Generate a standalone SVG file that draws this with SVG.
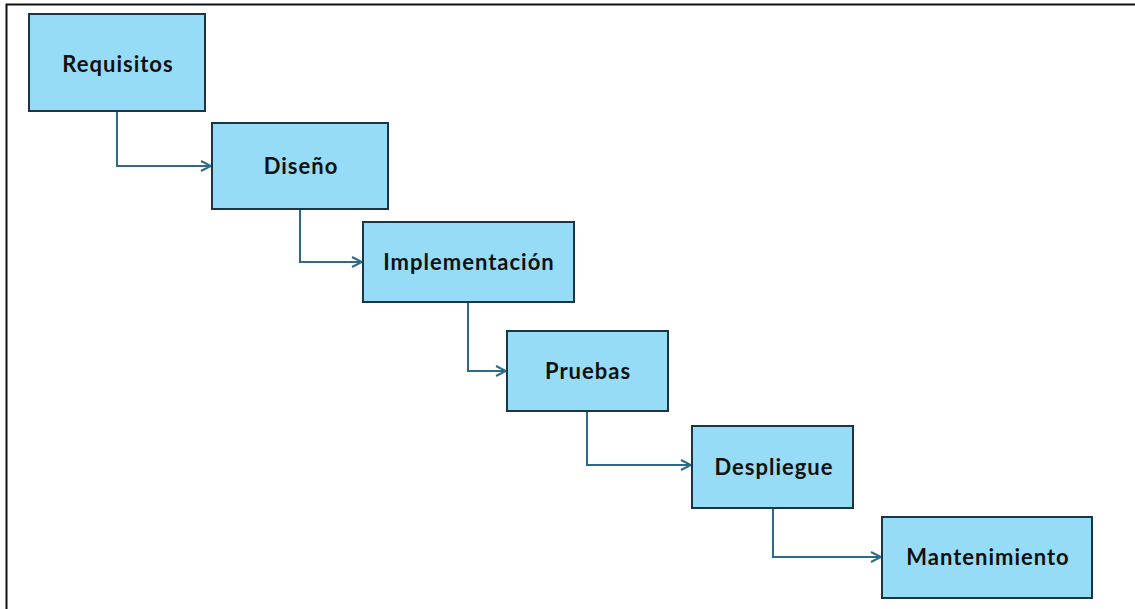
<svg xmlns="http://www.w3.org/2000/svg" width="1135" height="609" viewBox="0 0 1135 609">
<style>
.box{fill:#97dcf7;stroke:#1b3546;stroke-width:2}
.lbl{font-family:Lato,"Open Sans","Liberation Sans",sans-serif;font-weight:bold;font-size:22px;letter-spacing:1px;fill:#111;text-anchor:middle}
.con{fill:none;stroke:#2b6a8a;stroke-width:2}
</style>
<defs>
<marker id="ah" viewBox="0 0 12 12" refX="11" refY="6" markerWidth="12" markerHeight="12" markerUnits="userSpaceOnUse" orient="auto">
<path d="M1,1 L11,6 L1,11" fill="none" stroke="#2b6a8a" stroke-width="2"/>
</marker>
</defs>
<rect x="0" y="0" width="1135" height="609" fill="#fff"/>
<path d="M6.5,609 V4.5 H1135" fill="none" stroke="#111" stroke-width="2"/>
<g id="connectors">
<path class="con" d="M117,111 V166 H211" marker-end="url(#ah)"/>
<path class="con" d="M300,209 V262 H362" marker-end="url(#ah)"/>
<path class="con" d="M468,302 V371 H506" marker-end="url(#ah)"/>
<path class="con" d="M587,411 V465 H691" marker-end="url(#ah)"/>
<path class="con" d="M773,508 V557 H881" marker-end="url(#ah)"/>
</g>
<g id="n1"><rect class="box" x="29" y="14" width="176" height="97"/><text class="lbl" x="118" y="72">Requisitos</text></g>
<g id="n2"><rect class="box" x="212" y="123" width="176" height="86"/><text class="lbl" x="301" y="174">Diseño</text></g>
<g id="n3"><rect class="box" x="363" y="222" width="211" height="80"/><text class="lbl" x="469" y="270">Implementación</text></g>
<g id="n4"><rect class="box" x="507" y="331" width="161" height="80"/><text class="lbl" x="588" y="379">Pruebas</text></g>
<g id="n5"><rect class="box" x="692" y="426" width="161" height="82"/><text class="lbl" x="774" y="475">Despliegue</text></g>
<g id="n6"><rect class="box" x="882" y="517" width="210" height="81"/><text class="lbl" x="988" y="565">Mantenimiento</text></g>
</svg>
